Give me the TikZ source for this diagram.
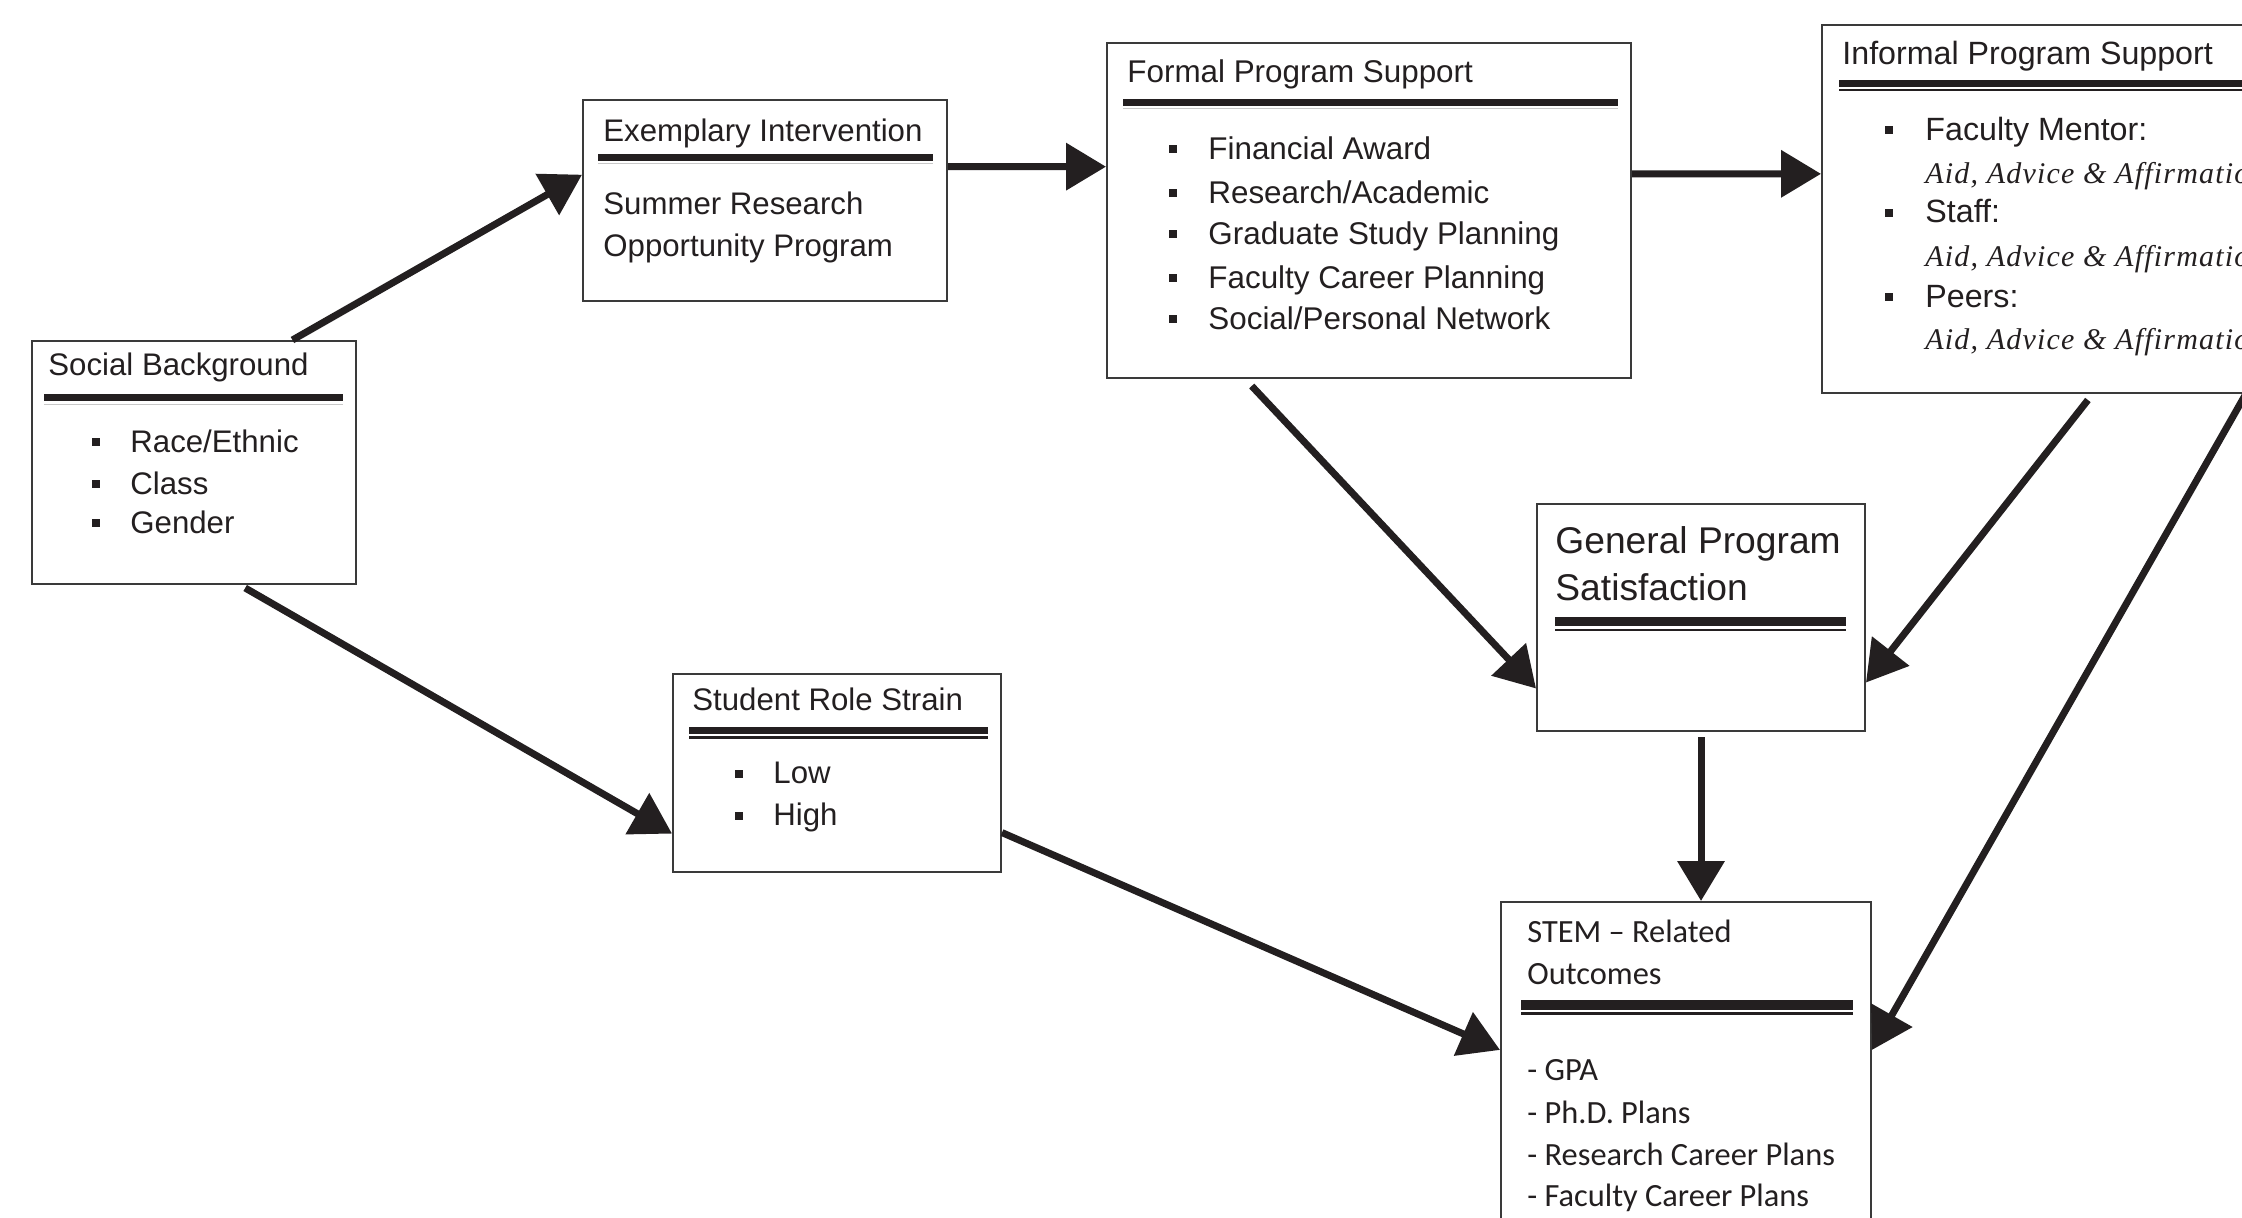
\documentclass[tikz,border=0pt]{standalone}
\usepackage{fontspec}
\setmainfont{Liberation Sans}
\newfontfamily\calibfont{Carlito}
\newfontfamily\aidfont[LetterSpace=4]{Liberation Serif}
\usetikzlibrary{arrows.meta,calc,fit}
\definecolor{ink}{HTML}{231F20}
\definecolor{edge}{HTML}{3A3A3A}
\definecolor{faint}{HTML}{C8C8C8}
\tikzset{
  box/.style={draw=edge, line width=1pt, inner sep=0pt, rectangle},
  lbl/.style={anchor=base west, inner sep=0pt, text=ink},
  fa/.style={lbl, font=\fontsize{15.6pt}{18pt}\selectfont},
  fb/.style={lbl, font=\fontsize{15.7pt}{18pt}\selectfont},
  fc/.style={lbl, font=\fontsize{16.1pt}{18pt}\selectfont},
  fg/.style={lbl, font=\fontsize{18.6pt}{22pt}\selectfont},
  fs/.style={lbl, font=\fontsize{16.2pt}{18pt}\calibfont},
  fi/.style={lbl, font=\fontsize{15pt}{18pt}\aidfont\itshape},
  bul/.style={fill=ink, inner sep=0pt, minimum size=4pt, rectangle},
  barthick/.style={draw=ink, line width=3.5pt},
  barthin/.style={draw=faint, line width=0.7pt},
  barthinb/.style={draw=ink, line width=1pt},
  arr/.style={draw=ink, line width=3.5pt, -{Triangle[length=20pt,width=23pt]}},
}
\begin{document}
\begin{tikzpicture}[x=0.5pt, y=-0.5pt]
\useasboundingbox (0,0) rectangle (2242,1218);
\clip (0,0) rectangle (2242,1218);
\fill[white] (0,0) rectangle (2242,1218);

% ---------- Social Background ----------
\node[box, fit={(32,341) (356,584)}] (sb) {};
\node[fa] (sbt) at (48,376) {Social Background};
\draw[barthick] (44,398) -- (343,398);
\draw[barthin] (44,404.5) -- (343,404.5);
\node[bul] (sbb1) at (96,441.7) {};
\node[bul] (sbb2) at (96,484) {};
\node[bul] (sbb3) at (96,522.7) {};
\node[fa] (sbi1) at (130,452.7) {Race/Ethnic};
\node[fa] (sbi2) at (130,495) {Class};
\node[fa] (sbi3) at (130,533.7) {Gender};

% ---------- Exemplary Intervention ----------
\node[box, fit={(583,100) (947,301)}] (ei) {};
\node[fa] (eit) at (603,141.7) {Exemplary Intervention};
\draw[barthick] (598,158) -- (933,158);
\draw[barthin] (598,163.5) -- (933,163.5);
\node[fa] (ei1) at (603,215) {Summer Research};
\node[fa] (ei2) at (603,256.7) {Opportunity Program};

% ---------- Formal Program Support ----------
\node[box, fit={(1107,43) (1631,378)}] (fp) {};
\node[fb] (fpt) at (1127,82.7) {Formal Program Support};
\draw[barthick] (1123,102.5) -- (1618,102.5);
\draw[barthin] (1123,108.5) -- (1618,108.5);
\node[bul] (fpb1) at (1172.5,149) {};
\node[bul] (fpb2) at (1172.5,193) {};
\node[bul] (fpb3) at (1172.5,234) {};
\node[bul] (fpb4) at (1172.5,278) {};
\node[bul] (fpb5) at (1172.5,319) {};
\node[fb] (fpi1) at (1208,160) {Financial Award};
\node[fb] (fpi2) at (1208,204) {Research/Academic};
\node[fb] (fpi3) at (1208,245) {Graduate Study Planning};
\node[fb] (fpi4) at (1208,289) {Faculty Career Planning};
\node[fb] (fpi5) at (1208,330) {Social/Personal Network};

% ---------- Informal Program Support ----------
\node[box, fit={(1822,25) (2300,393)}] (ip) {};
\node[fc] (ipt) at (1842,65) {Informal Program Support};
\draw[barthick] (1839,84) -- (2290,84);
\draw[barthinb] (1839,90) -- (2290,90);
\node[bul] (ipb1) at (1889,130.5) {};
\node[bul] (ipb2) at (1889,213) {};
\node[bul] (ipb3) at (1889,297.5) {};
\node[fc] (ipi1) at (1925,140.7) {Faculty Mentor:};
\node[fi] (ipa1) at (1925,184) {Aid, Advice \& Affirmation};
\node[fc] (ipi2) at (1925,223) {Staff:};
\node[fi] (ipa2) at (1925,266.7) {Aid, Advice \& Affirmation};
\node[fc] (ipi3) at (1925,307.7) {Peers:};
\node[fi] (ipa3) at (1925,350) {Aid, Advice \& Affirmation};

% ---------- General Program Satisfaction ----------
\node[box, fit={(1537,504) (1865,731)}] (gp) {};
\node[fg] (gpt1) at (1555,553.3) {General Program};
\node[fg] (gpt2) at (1555,600.7) {Satisfaction};
\draw[draw=ink, line width=4.5pt] (1555,621.5) -- (1846,621.5);
\draw[draw=ink, line width=1.15pt] (1555,630) -- (1846,630);

% ---------- Student Role Strain ----------
\node[box, fit={(673,674) (1001,872)}] (sr) {};
\node[fa] (srt) at (692,710.7) {Student Role Strain};
\draw[barthick] (689,730.5) -- (988,730.5);
\draw[draw=ink, line width=1.25pt] (689,737.5) -- (988,737.5);
\node[bul] (srb1) at (739,773.5) {};
\node[bul] (srb2) at (739,815.5) {};
\node[fa] (sri1) at (773,783.3) {Low};
\node[fa] (sri2) at (773,825.7) {High};

% ---------- STEM - Related Outcomes ----------
\node[box, fit={(1501,902) (1871,1240)}] (so) {};
\node[fs] (sot1) at (1527,942.7) {STEM – Related};
\node[fs] (sot2) at (1527,984.3) {Outcomes};
\draw[draw=ink, line width=5pt] (1521,1005) -- (1853,1005);
\draw[draw=ink, line width=1.35pt] (1521,1013.5) -- (1853,1013.5);
\node[fs] (soi1) at (1527,1080.7) {- GPA};
\node[fs] (soi2) at (1527,1123.3) {- Ph.D. Plans};
\node[fs] (soi3) at (1527,1165) {- Research Career Plans};
\node[fs] (soi4) at (1527,1206) {- Faculty Career Plans};

% ---------- connectors ----------
\draw[arr] ($(sb.north west)!0.802!(sb.north east)$) -- ($(ei.north west)!0.373!(ei.south west)$);
\draw[arr] ($(ei.north east)!0.333!(ei.south east)$) -- ($(fp.north west)!0.370!(fp.south west)$);
\draw[arr] ($(fp.north east)!0.391!(fp.south east)$) -- ($(ip.north west)!0.405!(ip.south west)$);
\draw[arr] ([yshift=-1.5pt]$(sb.south west)!0.657!(sb.south east)$) -- ($(sr.north west)!0.803!(sr.south west)$);
\draw[arr] ([yshift=-3.5pt]$(fp.south west)!0.277!(fp.south east)$) -- ($(gp.north west)!0.81!(gp.south west)$);
\draw[arr] ([yshift=-3pt]$(ip.south west)!0.556!(ip.south east)$) -- ($(gp.north east)!0.784!(gp.south east)$);
\draw[arr] ([yshift=-2.5pt]gp.south) -- (gp.south |- so.north);
\draw[arr] ($(sr.north east)!0.798!(sr.south east)$) -- ($(so.north west)!0.438!(so.south west)$);
\draw[arr] ($(ip.south west)!0.885!(ip.south east)$) -- ($(so.north east)!0.438!(so.south east)$);
\end{tikzpicture}
\end{document}
